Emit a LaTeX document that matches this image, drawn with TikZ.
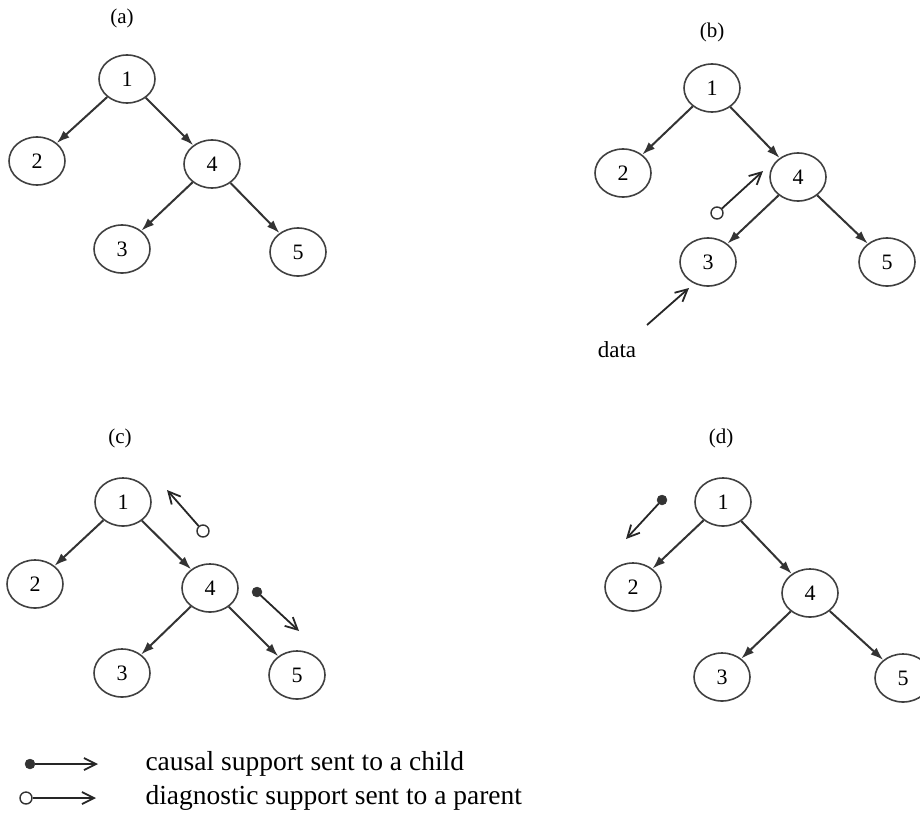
\documentclass[tikz,border=0pt]{standalone}
\usepackage{fontspec}
\setmainfont{Liberation Serif}
\usetikzlibrary{arrows.meta,shapes.geometric}

\tikzset{
  bnode/.style={ellipse, draw=black!75, line width=1.6pt, minimum width=56pt,
    minimum height=48pt, inner sep=0pt, font=\fontsize{22}{24}\selectfont},
  edge/.style={draw=black!80, line width=2pt,
    -{Latex[length=13pt,width=9pt]}},
  msg/.style={draw=black!85, line width=1.8pt,
    -{Straight Barb[length=12pt,width=12pt,line width=1.8pt]}},
  fulldot/.style={circle, fill=black!80, draw=black!80, minimum size=10pt, inner sep=0pt},
  opendot/.style={circle, fill=white, draw=black!80, line width=1.4pt, minimum size=12pt, inner sep=0pt},
  ptitle/.style={font=\fontsize{21}{23}\selectfont},
  legtext/.style={anchor=west, font=\fontsize{27.5}{30}\selectfont},
}

% one belief network: 1 -> 2, 1 -> 4, 4 -> 3, 4 -> 5
\newcommand{\belieftree}[6]{%
  \node[bnode] (#1n1) at #2 {1};
  \node[bnode] (#1n2) at #3 {2};
  \node[bnode] (#1n4) at #4 {4};
  \node[bnode] (#1n3) at #5 {3};
  \node[bnode] (#1n5) at #6 {5};
  \draw[edge] (#1n1) -- (#1n2);
  \draw[edge] (#1n1) -- (#1n4);
  \draw[edge] (#1n4) -- (#1n3);
  \draw[edge] (#1n4) -- (#1n5);
}

\begin{document}
\begin{tikzpicture}[x=1pt,y=-1pt]
\useasboundingbox (0,0) rectangle (920,827);

% (a) initial network
\node[ptitle] (ta) at (122,18) {(a)};
\belieftree{a}{(127,79)}{(37,161)}{(212,164)}{(122,249)}{(298,252)}

% (b) evidence arrives at node 3
\node[ptitle] (tb) at (712,32) {(b)};
\belieftree{b}{(712,88)}{(623,173)}{(798,177)}{(708,262)}{(887,262)}
\node[opendot] (bo) at (717,213) {};
\coordinate (bot) at (763,171);
\draw[msg] (bo) -- (bot);
\node[font=\fontsize{23}{25}\selectfont] (data) at (617,350) {data};
\coordinate (ds) at (647,325);
\coordinate (dt) at (689,288);
\draw[msg] (ds) -- (dt);

% (c) node 4 passes support on
\node[ptitle] (tc) at (120,438) {(c)};
\belieftree{c}{(123,502)}{(35,584)}{(210,588)}{(122,673)}{(297,675)}
\node[opendot] (co) at (203,531) {};
\coordinate (cot) at (167,490);
\draw[msg] (co) -- (cot);
\node[fulldot] (cf) at (257,592) {};
\coordinate (cft) at (299,631);
\draw[msg] (cf) -- (cft);

% (d) node 1 passes support to node 2
\node[ptitle] (td) at (721,438) {(d)};
\belieftree{d}{(723,502)}{(633,587)}{(810,593)}{(722,677)}{(903,678)}
\node[fulldot] (df) at (662,500) {};
\coordinate (dft) at (626,539);
\draw[msg] (df) -- (dft);

% legend
\node[fulldot] (lf) at (30,764) {};
\coordinate (lft) at (98,764);
\draw[msg] (lf) -- (lft);
\node[legtext] (lt1) at (142,764) {causal support sent to a child};
\node[opendot] (lo) at (26,798) {};
\coordinate (lot) at (96,798);
\draw[msg] (lo) -- (lot);
\node[legtext] (lt2) at (142,798) {diagnostic support sent to a parent};
\end{tikzpicture}
\end{document}
